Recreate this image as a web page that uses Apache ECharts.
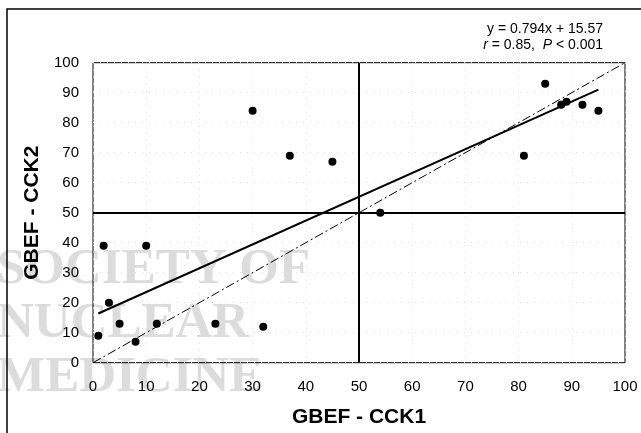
<!DOCTYPE html>
<html>
<head>
<meta charset="utf-8">
<script src="https://cdn.jsdelivr.net/npm/echarts@6/dist/echarts.min.js"></script>
<style>
html,body{margin:0;padding:0;background:#fff;}
#chart{width:641px;height:433px;}
</style>
</head>
<body>
<div id="chart"></div>
<script>
// Data
var cck1 = [1, 2, 3, 5, 8, 10, 12, 23, 30, 32, 37, 45, 54, 81, 85, 88, 89, 92, 95];
var cck2 = [9, 39, 20, 13, 7, 39, 13, 13, 84, 12, 69, 67, 50, 69, 93, 86, 87, 86, 84];
var fitX = [1, 95];
var fitY = [16.4, 91.0];
var identX = [0, 100];
var identY = [0, 100];
var axisTicks = [0, 10, 20, 30, 40, 50, 60, 70, 80, 90, 100];
var cutoff = 50;
var xTitle = 'GBEF - CCK1';
var yTitle = 'GBEF - CCK2';
var eqLine1 = 'y = 0.794x + 15.57';
var watermark = ['SOCIETY OF', 'NUCLEAR', 'MEDICINE'];

function pairs(xs, ys) { return xs.map(function (x, i) { return [x, ys[i]]; }); }

var chart = echarts.init(document.getElementById('chart'), null, {renderer: 'canvas'});
var fontMain = 'Liberation Sans, Arial, sans-serif';

var wmGraphics = watermark.map(function (t, i) {
  return {
    type: 'text', left: -3, top: 244 + i * 54, z: -10, silent: true,
    style: {text: t, font: 'bold 51px "Liberation Serif", "Times New Roman", serif', fill: '#dcdcdc'}
  };
});

chart.setOption({
  animation: false,
  backgroundColor: '#fff',
  grid: {left: 93, right: 16, top: 62.7, bottom: 70.3, show: true, borderColor: '#000', borderWidth: 1, backgroundColor: 'transparent'},
  xAxis: {
    type: 'value', min: axisTicks[0], max: axisTicks[axisTicks.length - 1], interval: 10,
    axisLine: {show: false}, axisTick: {show: false},
    axisLabel: {color: '#000', fontSize: 15, fontFamily: fontMain, margin: 17},
    splitLine: {show: true, lineStyle: {color: '#dedede', type: [1, 6], width: 1}},
    name: xTitle, nameLocation: 'middle', nameGap: 44,
    nameTextStyle: {color: '#000', fontSize: 21, fontWeight: 'bold', fontFamily: fontMain}
  },
  yAxis: {
    type: 'value', min: axisTicks[0], max: axisTicks[axisTicks.length - 1], interval: 10,
    axisLine: {show: false}, axisTick: {show: false},
    axisLabel: {color: '#000', fontSize: 15, fontFamily: fontMain, margin: 14},
    splitLine: {show: true, lineStyle: {color: '#dedede', type: [1, 6], width: 1}},
    name: yTitle, nameLocation: 'middle', nameGap: 50,
    nameTextStyle: {color: '#000', fontSize: 21, fontWeight: 'bold', fontFamily: fontMain}
  },
  graphic: wmGraphics.concat([
    {type: 'rect', shape: {x: 7, y: 9, width: 800, height: 600}, style: {fill: 'none', stroke: '#000', lineWidth: 1.5}, silent: true, z: 0},
    {type: 'text', right: 38, top: 22, style: {text: eqLine1, font: '14px "Liberation Sans", Arial, sans-serif', fill: '#000'}},
    {type: 'text', right: 38, top: 38, style: {
      text: '{i|r} = 0.85,  {i|P} < 0.001',
      font: '14px "Liberation Sans", Arial, sans-serif', fill: '#000',
      rich: {i: {fontStyle: 'italic', fontSize: 14, fontFamily: fontMain, fill: '#000'}}
    }}
  ]),
  series: [
    {
      type: 'line', data: pairs(identX, identY), symbol: 'none', silent: true, z: 2,
      lineStyle: {color: '#000', width: 1, type: [9, 3, 2, 3]}
    },
    {
      type: 'line', data: pairs(fitX, fitY), symbol: 'none', silent: true, z: 3,
      lineStyle: {color: '#000', width: 2}
    },
    {
      type: 'scatter', data: pairs(cck1, cck2), symbol: 'circle', symbolSize: 8, z: 5,
      itemStyle: {color: '#000', opacity: 1},
      markLine: {
        silent: true, symbol: 'none', label: {show: false},
        lineStyle: {color: '#000', width: 2, type: 'solid'},
        data: [{xAxis: cutoff}, {yAxis: cutoff}]
      }
    }
  ]
});
</script>
</body>
</html>
